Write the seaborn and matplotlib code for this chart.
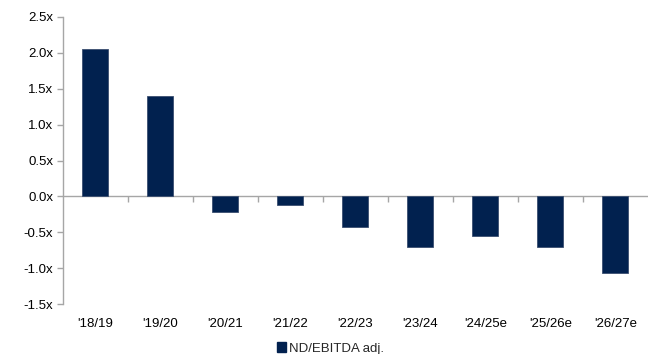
import matplotlib
matplotlib.use("Agg")
import matplotlib.pyplot as plt
import seaborn as sns
import pandas as pd
from matplotlib.patches import Patch
from matplotlib.ticker import FixedLocator, FuncFormatter

# Net debt / adjusted EBITDA by fiscal year
years = ["'18/19", "'19/20", "'20/21", "'21/22", "'22/23",
         "'23/24", "'24/25e", "'25/26e", "'26/27e"]
leverage = [2.05, 1.40, -0.22, -0.12, -0.42, -0.71, -0.55, -0.71, -1.07]
series_name = "ND/EBITDA adj."
yticks = [-1.5, -1.0, -0.5, 0.0, 0.5, 1.0, 1.5, 2.0, 2.5]

navy = "#01214F"
grey = "#A6A6A6"

sns.set_theme(style="white")
plt.rcParams["font.family"] = ["Liberation Sans", "DejaVu Sans"]

df = pd.DataFrame({"year": years, "value": leverage})

fig = plt.figure(figsize=(6.48, 3.54), dpi=100)
ax = fig.add_axes([0.097, 0.141, 0.903, 0.811])

sns.barplot(data=df, x="year", y="value", color=navy, width=0.4,
            edgecolor="#3A4E70", linewidth=0.6, saturation=1, ax=ax)

ymin, ymax = yticks[0], yticks[-1]
ax.set_ylim(ymin, ymax)
ax.set_xlim(-0.5, len(years) - 0.5)
ax.yaxis.set_major_locator(FixedLocator(yticks))
ax.yaxis.set_major_formatter(FuncFormatter(lambda v, p: f"{v:.1f}x"))

ax.set_xlabel("")
ax.set_ylabel("")

for side in ("top", "right", "bottom"):
    ax.spines[side].set_visible(False)
ax.spines["left"].set_color(grey)
ax.spines["left"].set_linewidth(1.0)

ax.tick_params(axis="y", which="major", left=True, length=4, width=1,
               color=grey, labelsize=9.5, labelcolor="#000000", pad=3)
ax.tick_params(axis="x", which="major", bottom=False, length=0,
               labelsize=9.5, labelcolor="#000000", pad=10)

# zero line with tick marks at category boundaries
zero_loc = (0 - ymin) / (ymax - ymin)
sec = ax.secondary_xaxis(zero_loc)
sec.spines["bottom"].set_color(grey)
sec.spines["bottom"].set_linewidth(1.0)
sec.set_xticks([i + 0.5 for i in range(len(years) - 1)])
sec.tick_params(axis="x", length=4, width=1, color=grey, labelbottom=False,
                direction="out")

handle = Patch(facecolor=navy, edgecolor=navy)
fig.legend([handle], [series_name], loc="lower center",
           bbox_to_anchor=(0.51, -0.035), frameon=False, fontsize=9.5,
           handlelength=0.7, handleheight=0.7, handletextpad=0.2)

fig.savefig("out.png", dpi=100)
